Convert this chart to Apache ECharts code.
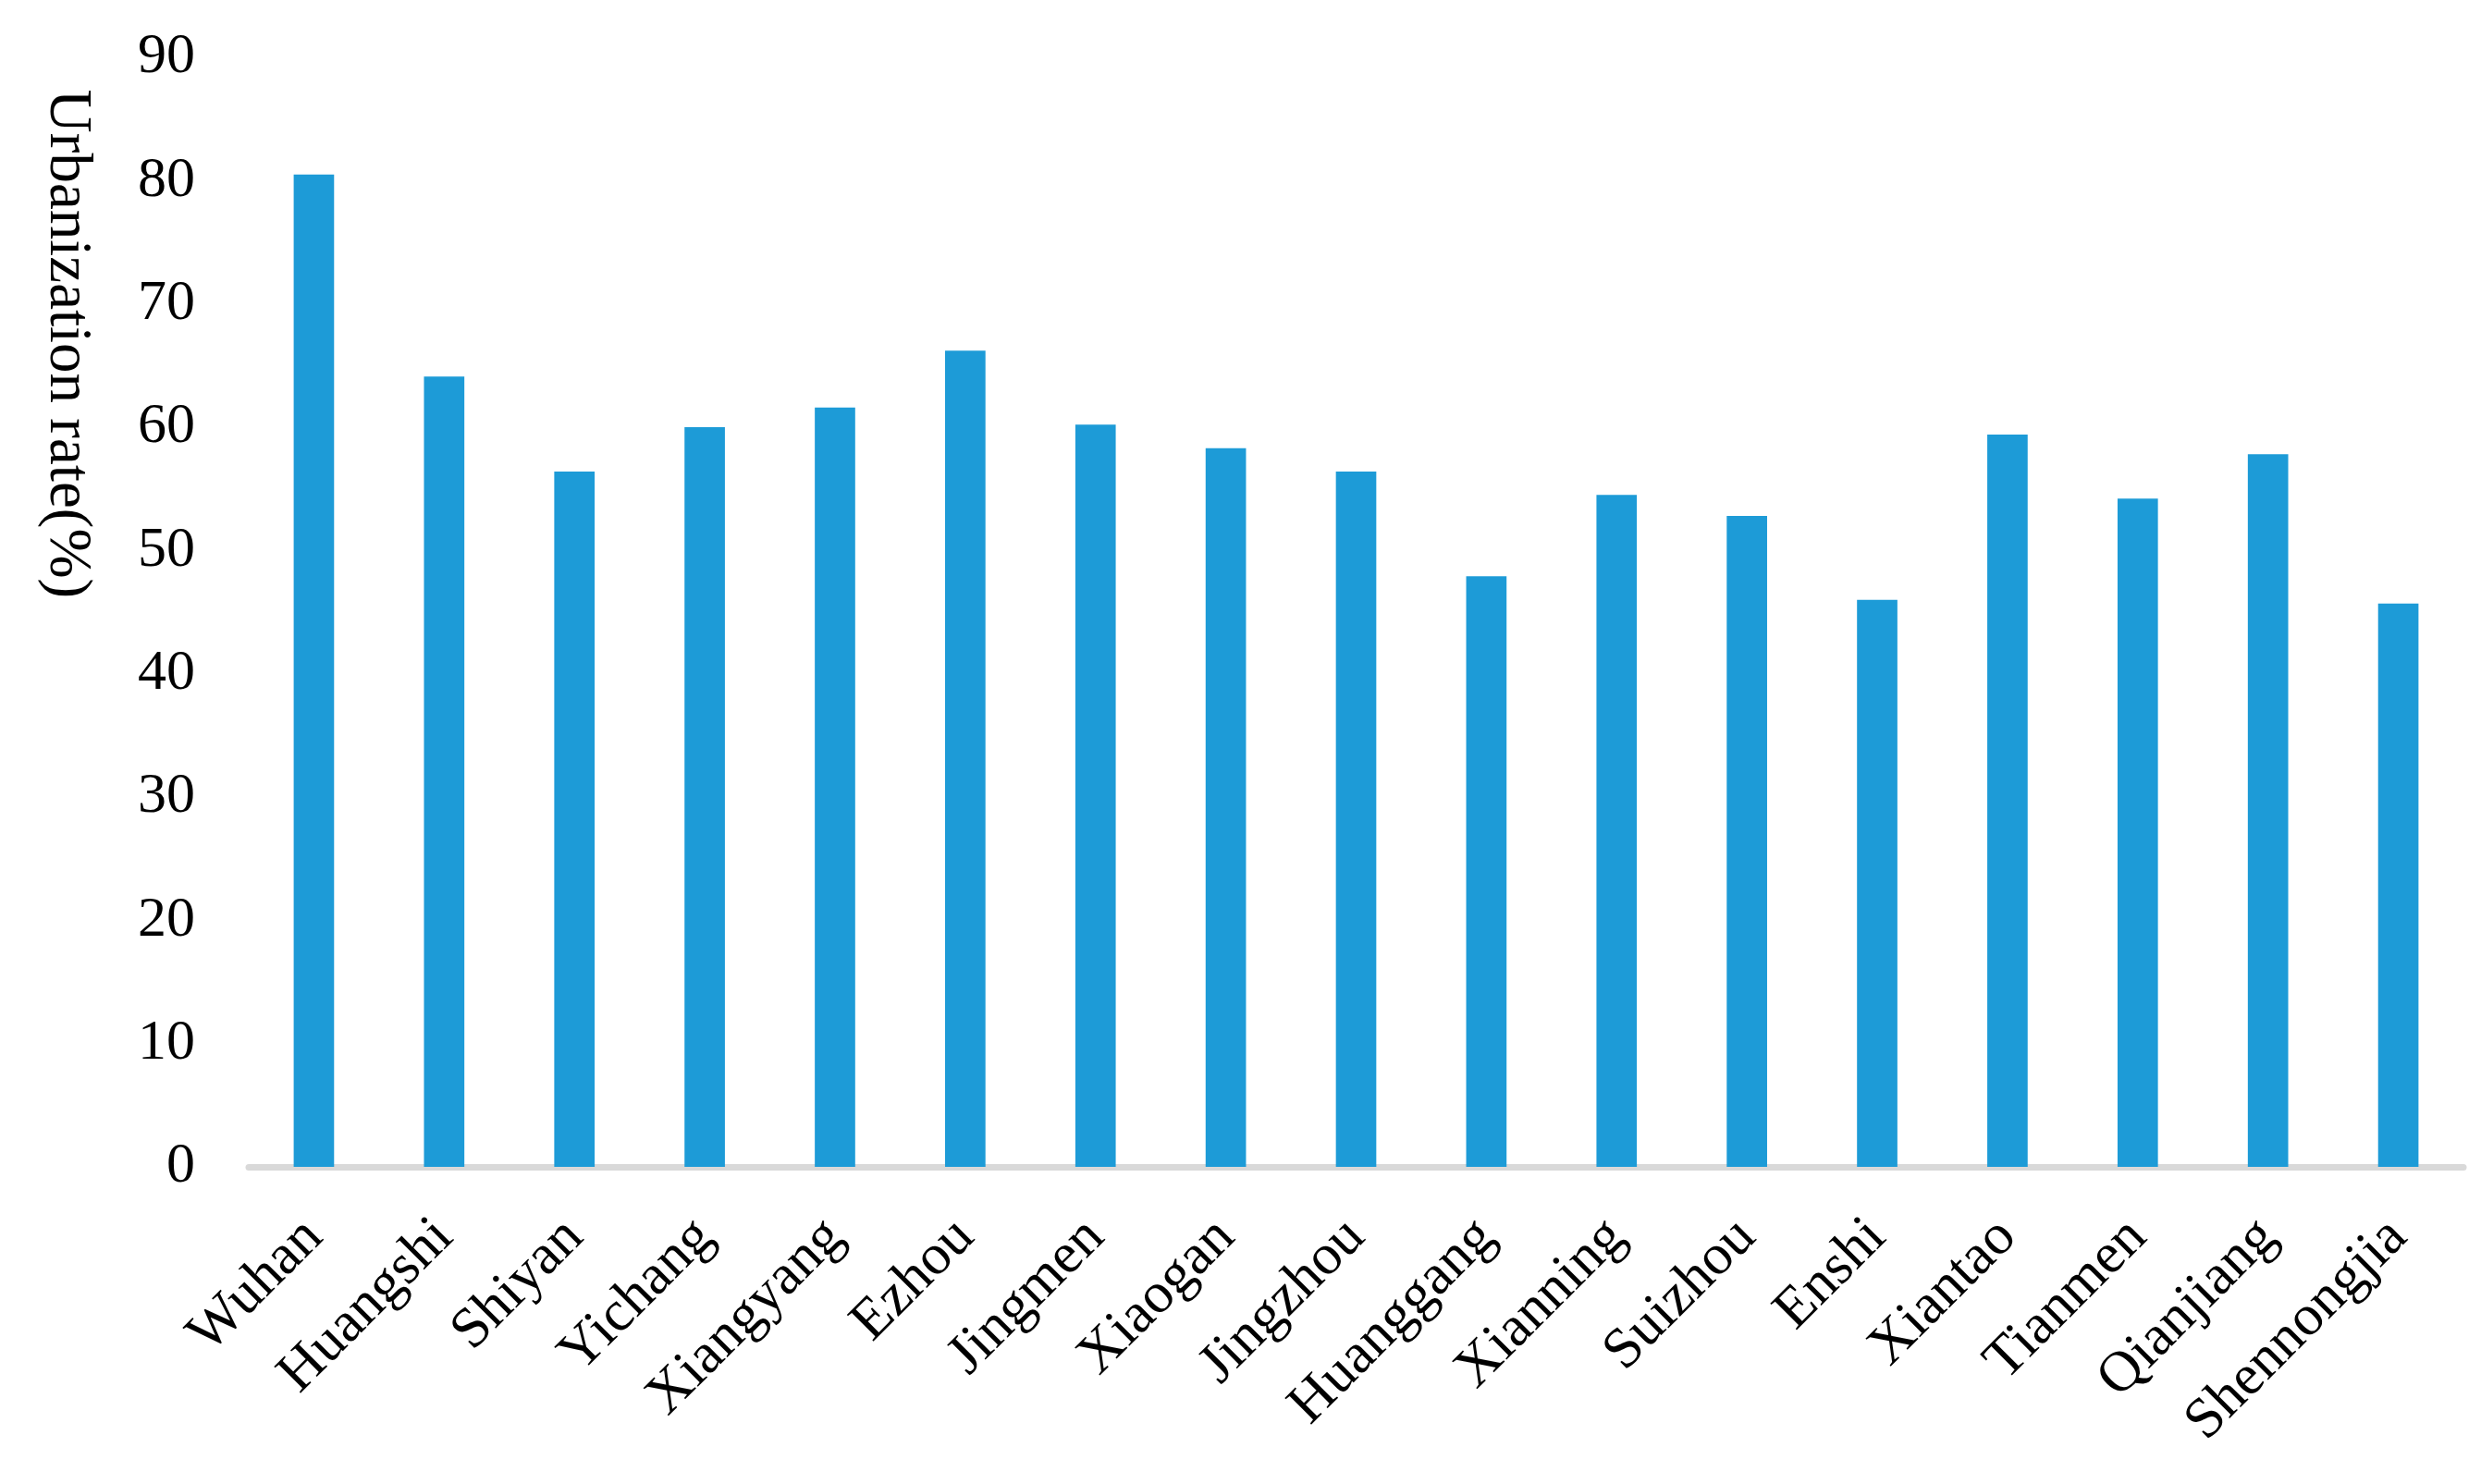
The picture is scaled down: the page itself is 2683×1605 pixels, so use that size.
<!DOCTYPE html>
<html>
<head>
<meta charset="utf-8">
<script src="https://cdn.jsdelivr.net/npm/echarts@6/dist/echarts.min.js"></script>
<style>
html,body{margin:0;padding:0;background:#fff;}
#chart{width:2683px;height:1605px;}
</style>
</head>
<body>
<div id="chart"></div>
<script>
const categories = ["Wuhan","Huangshi","Shiyan","Yichang","Xiangyang","Ezhou","Jingmen","Xiaogan","Jingzhou","Huanggang","Xianning","Suizhou","Enshi","Xiantao","Tianmen","Qianjiang","Shennongjia"];
const urbanizationRate = [80.5,64.1,56.4,60.0,61.6,66.2,60.2,58.3,56.4,47.9,54.5,52.8,46.0,59.4,54.2,57.8,45.7];
const yTicks = {min:0, max:90, interval:10};
const yTitle = "Urbanization rate(%)";

const FONT = '"Liberation Serif","Times New Roman",serif';
const chart = echarts.init(document.getElementById('chart'), null, {renderer:'canvas'});
chart.setOption({
  backgroundColor:'#ffffff',
  animation:false,
  grid:{left:269, right:19, top:62, bottom:343, containLabel:false},
  xAxis:{
    type:'category',
    data:categories,
    offset:3.5,
    axisLine:{show:true, lineStyle:{color:'#d9d9d9', width:7}},
    axisTick:{show:false},
    axisLabel:{rotate:45, interval:0, margin:63, color:'#000', fontFamily:FONT, fontSize:62}
  },
  yAxis:{
    type:'value',
    min:yTicks.min, max:yTicks.max, interval:yTicks.interval,
    axisLine:{show:false},
    axisTick:{show:false},
    splitLine:{show:false},
    axisLabel:{margin:58, color:'#000', fontFamily:FONT, fontSize:62, padding:[8,0,0,0]}
  },
  graphic:[{
    type:'text',
    x:72, y:372,
    rotation:-Math.PI/2,
    style:{text:yTitle, fill:'#000', font:'65px ' + FONT, textAlign:'center', textVerticalAlign:'middle'}
  }],
  series:[{
    type:'bar',
    data:urbanizationRate,
    barWidth:'31%',
    itemStyle:{color:'#1d9bd7'}
  }]
});
</script>
</body>
</html>
